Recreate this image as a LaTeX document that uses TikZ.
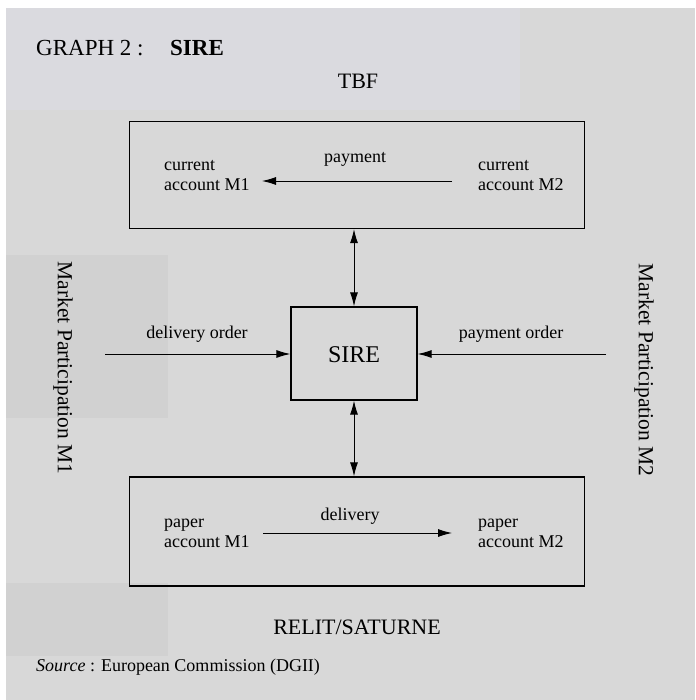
\documentclass[tikz,border=0pt]{standalone}
\usepackage{fontspec}
\setmainfont{Liberation Serif}
\usetikzlibrary{arrows.meta}
\definecolor{bg}{HTML}{D8D8D8}
\definecolor{bgpatch}{HTML}{D1D1D1}
\definecolor{bgtop}{HTML}{DADADF}
\begin{document}
\begin{tikzpicture}[x=1pt,y=-1pt,
  box/.style={draw=black,line width=1.3pt,inner sep=0pt},
  lbl/.style={font=\fontsize{18}{20}\selectfont,align=left,anchor=base west,inner sep=0pt},
  clbl/.style={font=\fontsize{18}{20}\selectfont,anchor=base,inner sep=0pt},
  big/.style={font=\fontsize{22}{26}\selectfont,anchor=base,inner sep=0pt},
  flow/.style={line width=0.9pt,-{Latex[length=14pt,width=8pt]}},
  both/.style={line width=0.9pt,{Latex[length=14pt,width=8pt]}-{Latex[length=14pt,width=8pt]}}]
\useasboundingbox (0,0) rectangle (695,700);
\fill[white] (0,0) rectangle (695,700);
\fill[bg] (6,8) rectangle (695,700);
\fill[bgtop] (6,8) rectangle (520,110);
\fill[bgpatch] (6,255) rectangle (168,418);
\fill[bgpatch] (6,583) rectangle (168,656);
% title
\node[anchor=base west,inner sep=0pt,font=\fontsize{23}{26}\selectfont] (title) at (36,56) {GRAPH 2 :};
\node[anchor=base west,inner sep=0pt,font=\fontsize{23}{26}\selectfont\bfseries] (title2) at (170,56) {SIRE};
\node[big] (tbf) at (358,89) {TBF};
% top box
\node[box,minimum width=455pt,minimum height=107pt] (tbox) at (357,175) {};
\node[lbl] (c1) at (164,191) {current\\account M1};
\node[lbl] (c2) at (478,191) {current\\account M2};
\node[clbl] (pay) at (355,163) {payment};
\coordinate (pa) at (452,181);
\coordinate (pb) at (262,181);
\draw[flow] (pa) -- (pb);
% SIRE
\node[box,minimum width=126pt,minimum height=93pt] (sire) at (354,353.5) {};
\node[font=\fontsize{24}{28}\selectfont,inner sep=0pt,anchor=base] (sirel) at (354,362) {SIRE};
\draw[both] (sire.north) -- (sire.north |- tbox.south);
% bottom box
\node[box,minimum width=455pt,minimum height=109pt] (bbox) at (357,531.5) {};
\draw[both] (sire.south) -- (sire.south |- bbox.north);
\node[lbl] (p1) at (164,547) {paper\\account M1};
\node[lbl] (p2) at (478,547) {paper\\account M2};
\node[clbl] (del) at (350,520) {delivery};
\coordinate (da) at (263,533);
\coordinate (db) at (452,533);
\draw[flow] (da) -- (db);
% side arrows
\coordinate (lo) at (105,354);
\coordinate (ro) at (606,354);
\draw[flow] (lo) -- (sire.west |- lo);
\draw[flow] (ro) -- (sire.east |- ro);
\node[clbl] (dor) at (197,338) {delivery order};
\node[clbl] (por) at (511,338) {payment order};
% side labels
\node[font=\fontsize{21.5}{24}\selectfont,rotate=-90,inner sep=0pt] (m1) at (63,368) {Market Participation M1};
\node[font=\fontsize{21.5}{24}\selectfont,rotate=-90,inner sep=0pt] (m2) at (644,370) {Market Participation M2};
% bottom texts
\node[big] (rel) at (357,634) {RELIT/SATURNE};
\node[anchor=base west,inner sep=0pt,font=\fontsize{18}{20}\selectfont] (src) at (36,671) {\textit{Source} : European Commission (DGII)};
\end{tikzpicture}
\end{document}
